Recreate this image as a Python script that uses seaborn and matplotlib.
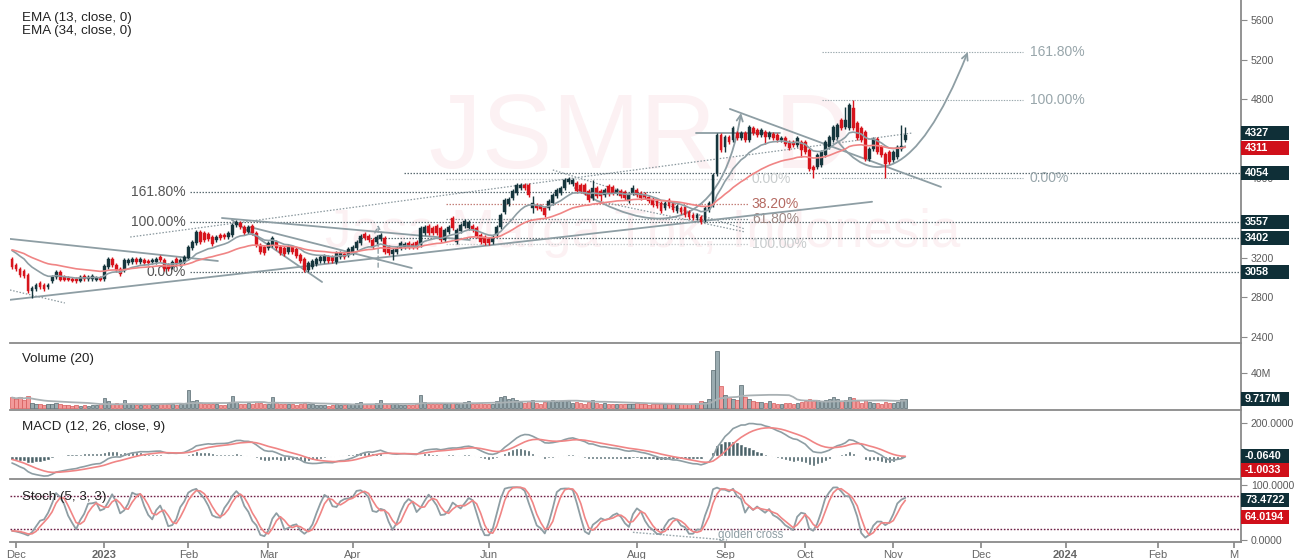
import numpy as np
import pandas as pd
import matplotlib
matplotlib.use("Agg")
import matplotlib.pyplot as plt
import seaborn as sns
from matplotlib.path import Path
from matplotlib.patches import FancyArrowPatch, Rectangle

# ---------------- data (daily bars, Dec 2022 - 3 Nov 2023) ----------------
opens = [
    3190, 3130, 3090, 3070, 3030, 2860, 2880, 2940, 2920, 2900,
    2960, 3010, 3060, 3010, 3000, 2990, 2990, 2970, 3020, 2990,
    2990, 2980, 3000, 2990, 3110, 3190, 3130, 3090, 3080, 3150,
    3160, 3190, 3160, 3180, 3170, 3160, 3160, 3210, 3180, 3130,
    3110, 3190, 3140, 3160, 3200, 3300, 3350, 3460, 3450, 3440,
    3410, 3380, 3430, 3430, 3410, 3430, 3530,
    3550, 3510, 3460, 3520, 3450, 3330, 3310, 3300, 3330, 3360,
    3310, 3300, 3260, 3310, 3290, 3230, 3190, 3080, 3110, 3140,
    3170, 3170, 3210, 3210, 3160, 3210, 3240, 3230, 3250, 3300,
    3350, 3440, 3420, 3380, 3360, 3390, 3400, 3310, 3240, 3260,
    3300, 3310, 3350, 3340, 3360, 3330, 3450, 3520, 3500, 3520,
    3500, 3380, 3460, 3600, 3360,
    3470, 3520, 3500, 3520, 3500, 3430, 3410, 3390, 3360, 3430,
    3510, 3660, 3740, 3800, 3850, 3900, 3930, 3930, 3700, 3730,
    3720, 3700, 3700, 3750, 3820, 3850, 3900, 3960, 3940, 3950,
    3930, 3930, 3870, 3800, 3900, 3870, 3830, 3920, 3910, 3850,
    3870, 3860, 3770, 3850, 3880, 3850, 3840, 3810, 3790, 3770,
    3750, 3700, 3780, 3750, 3670, 3700, 3710, 3660, 3630, 3600,
    3610, 3580, 3680, 3730, 4050, 4440, 4320, 4420, 4390, 4460,
    4410, 4460, 4390, 4510, 4490, 4440, 4470, 4420, 4450, 4440,
    4390, 4410, 4370, 4370, 4340, 4370, 4370, 4290, 4120, 4120,
    4140, 4240, 4320, 4390, 4420, 4590, 4520, 4510, 4710, 4560,
    4510, 4470, 4200, 4300, 4400, 4320, 4250, 4270, 4190, 4220,
    4300, 4390,
]
closes = [
    3110, 3090, 3030, 3020, 2860, 2890, 2920, 2900, 2880, 2920,
    3010, 3060, 2980, 2980, 2980, 2970, 2960, 3010, 2990, 3010,
    3020, 3000, 2980, 3120, 3190, 3130, 3080, 3040, 3180, 3180,
    3190, 3160, 3190, 3150, 3150, 3180, 3190, 3180, 3090, 3090,
    3160, 3140, 3180, 3210, 3310, 3360, 3460, 3360, 3380, 3390,
    3340, 3410, 3400, 3410, 3450, 3530, 3560,
    3510, 3450, 3510, 3450, 3330, 3260, 3250, 3350, 3400, 3300,
    3250, 3240, 3310, 3260, 3220, 3170, 3080, 3150, 3170, 3190,
    3210, 3220, 3170, 3170, 3250, 3250, 3210, 3290, 3310, 3360,
    3420, 3400, 3380, 3310, 3410, 3430, 3260, 3250, 3280, 3300,
    3350, 3340, 3310, 3310, 3310, 3500, 3510, 3450, 3450, 3450,
    3380, 3480, 3510, 3500, 3480,
    3530, 3570, 3560, 3480, 3420, 3360, 3350, 3350, 3410, 3510,
    3630, 3780, 3790, 3870, 3930, 3930, 3900, 3830, 3750, 3700,
    3690, 3630, 3770, 3830, 3880, 3900, 3980, 3990, 3980, 3870,
    3870, 3850, 3780, 3900, 3820, 3820, 3880, 3840, 3850, 3880,
    3820, 3800, 3830, 3900, 3830, 3800, 3810, 3770, 3730, 3720,
    3670, 3750, 3720, 3680, 3720, 3660, 3630, 3610, 3600, 3630,
    3560, 3700, 3750, 4040, 4440, 4290, 4420, 4370, 4510, 4410,
    4460, 4390, 4520, 4460, 4440, 4490, 4420, 4460, 4410, 4390,
    4410, 4350, 4310, 4340, 4410, 4290, 4270, 4100, 4090, 4240,
    4270, 4370, 4420, 4520, 4540, 4510, 4590, 4740, 4510, 4410,
    4390, 4200, 4300, 4400, 4270, 4240, 4150, 4170, 4270, 4320,
    4330, 4440,
]
volume_m = [
    12, 10, 13, 9, 14,
    6, 5, 4, 3, 4, 5, 6, 4, 3, 3, 2, 3, 2, 3, 2, 3, 3, 4,
    11, 8, 5, 6, 4, 9, 5, 4,
    3, 3, 3, 4, 3, 3, 4, 6, 5, 4, 3, 5, 6,
    21, 8, 9, 6, 5, 4, 5, 4, 3, 3, 6, 14, 7,
    5, 4, 6, 5, 7, 6, 4, 5, 12, 6, 5, 4, 4, 5,
    3, 4, 6, 5, 4, 3, 3, 3, 2, 3, 4, 3, 3, 4, 5, 6, 7, 5, 4, 5,
    6, 9, 6, 4, 5, 4, 3, 3, 3, 3, 4, 15, 7, 5, 4, 5, 5, 4, 6, 6, 5,
    6, 7, 8, 5, 5, 6, 5, 4, 5, 8, 12, 14, 10, 11, 9, 7, 6, 8, 9,
    6, 5, 7, 8, 9, 7, 8, 9, 8, 6, 7, 6, 5, 7, 9, 6, 5, 6, 5, 4,
    4, 5, 4, 4, 5, 6, 4, 4, 3, 4, 4, 5, 5, 4, 4, 5, 4, 5, 4, 5,
    6, 8, 7, 10, 44, 66, 25, 15, 12, 10, 9, 26, 12, 10, 8, 7, 7, 6, 8, 6,
    5, 5, 6, 6, 5, 6, 7, 8, 10, 8, 9, 8, 9, 10, 12, 10, 8, 9, 13, 11,
    8, 6, 9, 7, 6, 6, 5, 7, 6, 6, 7, 10, 9.717,
]
TYPICAL_WICK = 20          # usual shadow length seen on the candles
high_wicks = {130: 3820, 145: 3980, 155: 3930, 208: 4720, 210: 4790, 222: 4540, 223: 4520}
low_wicks = {5: 2790, 95: 3180, 130: 3650, 147: 3770, 172: 3540, 178: 4270,
             188: 4350, 197: 4220, 200: 4000, 218: 4000}

# indicator starting values (history before the visible window)
EMA13_START, EMA34_START = 3300, 3290
MACD_FAST_START, MACD_SLOW_START, MACD_SIGNAL_START = 3290, 3320, -15

month_ticks = [1, 23, 44, 64, 85, 119, 156, 178, 198, 220, 242, 263, 286, 305]
month_labels = ["Dec", "2023", "Feb", "Mar", "Apr", "Jun", "Aug", "Sep", "Oct",
                "Nov", "Dec", "2024", "Feb", "M"]
price_ticks = [2400, 2800, 3200, 4000, 4800, 5200, 5600]

# horizontal levels and where they start (bar index)
h_levels = [4054, 3557, 3402, 3058]
h_level_start = [97.9, 44.4, 86.4, 44.4]

# fibonacci drawings
fib_left_levels = [3058, 3557, 3865]
fib_left_labels = ["0.00%", "100.00%", "161.80%"]
fib_mid_levels = [3990, 3742, 3588, 3340]
fib_mid_labels = ["0.00%", "38.20%", "61.80%", "100.00%"]
fib_right_levels = [4005, 4792, 5278]
fib_right_labels = ["0.00%", "100.00%", "161.80%"]

# trend lines: (x0, y0, x1, y1) in bar index / price
solid_lines = [
    (-0.5, 2775, 214.7, 3765),
    (-0.5, 3390, 51.4, 3167),
    (52.4, 3601, 114.3, 3379),
    (54.9, 3581, 77.4, 2955),
    (59.4, 3510, 99.8, 3096),
    (179.2, 4702, 231.9, 3915),
    (170.7, 4459, 191.7, 4459),
]
dotted_lines = [
    (-0.5, 2874, 13.2, 2743),
    (29.5, 3409, 224.7, 4459),
    (135.0, 4086, 183.0, 3490),
    (145.0, 3783, 183.0, 3460),
]
cup_curve = [(140.5, 3904), (159.3, 3430), (176.7, 3379), (182.0, 4661)]
proj_curve = [(205.9, 4389), (214.2, 3934), (225.4, 3934), (238.6, 5277)]
measure_arrow = (91.4, 3076, 3561)

labels_main = [("4327", 4327, "dark", 13), ("4311", 4311, "red", 0), ("4054", 4054, "dark", 0),
               ("3557", 3557, "dark", 0), ("3402", 3402, "dark", 0), ("3058", 3058, "dark", 0)]
volume_label = ("9.717M", 9.717)
macd_labels = [("-0.0640", -0.0640, "dark", 0), ("-1.0033", -1.0033, "red", -14)]
stoch_labels = [("73.4722", 73.4722, "dark", 0), ("64.0194", 64.0194, "red", -12)]

# ---------------- computations ----------------
o = np.array(opens, float)
c = np.array(closes, float)
n = len(c)
idx = np.arange(n)
hi = np.maximum(o, c) + TYPICAL_WICK
lo = np.minimum(o, c) - TYPICAL_WICK
for k, v in high_wicks.items():
    hi[k] = v
for k, v in low_wicks.items():
    lo[k] = v
up = c >= o


def ema(values, span, start):
    a = 2.0 / (span + 1)
    out, prev = [], start
    for v in values:
        prev = a * v + (1 - a) * prev
        out.append(prev)
    return np.array(out)


ema13 = ema(c, 13, EMA13_START)
ema34 = ema(c, 34, EMA34_START)
macd = ema(c, 12, MACD_FAST_START) - ema(c, 26, MACD_SLOW_START)
signal = ema(macd, 9, MACD_SIGNAL_START)
hist = macd - signal
vol = np.array(volume_m, float)
vol_ma = pd.Series(vol).rolling(20, min_periods=1).mean().values
ll = pd.Series(lo).rolling(5, min_periods=1).min()
hh = pd.Series(hi).rolling(5, min_periods=1).max()
raw_k = (pd.Series(c) - ll) / (hh - ll).replace(0, np.nan) * 100
stoch_k = raw_k.fillna(50).rolling(3, min_periods=1).mean()
stoch_d = stoch_k.rolling(3, min_periods=1).mean()

df = pd.DataFrame({"i": idx, "ema13": ema13, "ema34": ema34, "macd": macd,
                   "signal": signal, "k": stoch_k.values, "d": stoch_d.values,
                   "vma": vol_ma})

# ---------------- style ----------------
sns.set_theme(style="white")
plt.rcParams["font.family"] = ["Liberation Sans", "DejaVu Sans"]

UP = "#16363d"
DN = "#d7141c"
GRAY = "#8e9ea4"
SALMON = "#f08585"
DARKBOX = "#0f2f37"
REDBOX = "#d0101a"
AXC = "#8a8a8a"
TXT = "#5a5a5a"

W, H = 1296, 559
fig = plt.figure(figsize=(W / 100, H / 100), dpi=100)
fig.patch.set_facecolor("white")


def rect(top, bottom):
    return [10 / W, 1 - bottom / H, (1241 - 10) / W, (bottom - top) / H]


ax = fig.add_axes(rect(0, 343))
axv = fig.add_axes(rect(344, 410))
axm = fig.add_axes(rect(411, 479))
axs = fig.add_axes(rect(480, 542))
XL = (-0.5, 306.8)
TX = 12 / 1231   # title inset

for a in (ax, axv, axm, axs):
    a.set_facecolor("none")
    a.set_xlim(*XL)
    for s in ("left", "top"):
        a.spines[s].set_visible(False)
    for s in ("right", "bottom"):
        a.spines[s].set_color(AXC)
        a.spines[s].set_linewidth(1.3)
    a.yaxis.tick_right()
    a.tick_params(axis="y", which="both", right=True, left=False, labelright=True,
                  labelleft=False, direction="out", length=4, width=0.8, color=AXC,
                  labelcolor=TXT, labelsize=7.6, pad=3)
    a.tick_params(axis="x", bottom=False, labelbottom=False)
    a.grid(False)

# ---------------- main price panel ----------------
ax.set_ylim(2339, 5802)
ax.set_yticks(price_ticks)
ax.set_yticklabels([str(t) for t in price_ticks])

ax.text(419 / 1231, 1 - 168 / 343, "JSMR, D", transform=ax.transAxes, ha="left",
        va="baseline", fontsize=76, color="#fcf1f3", zorder=0)
ax.text(950 / 1231, 1 - 247 / 343, "Jasa Marga Tbk, Indonesia", transform=ax.transAxes,
        ha="right", va="baseline", fontsize=38, color="#fcf1f3", zorder=0)

for lvl, x0 in zip(h_levels, h_level_start):
    ax.plot([x0, XL[1]], [lvl, lvl], color="#5d6d73", lw=0.9, ls=(0, (1.2, 1.2)), zorder=1)

ax.plot([44.4, 161.8], [fib_left_levels[2]] * 2, color="#5d6d73", lw=0.9, ls=(0, (1.2, 1.2)), zorder=1)
for lvl, lab in zip(fib_left_levels, fib_left_labels):
    ax.text(43.4, lvl, lab, ha="right", va="center", fontsize=10, color="#555555", zorder=2)

mid_cols = ["#c6cbcd", "#c4807a", "#8a9499", "#c6cbcd"]
mid_txt = ["#c8cccd", "#b56a62", "#a08a86", "#c8cccd"]
for lvl, lab, lc, tc in zip(fib_mid_levels, fib_mid_labels, mid_cols, mid_txt):
    ax.plot([108.3, 183.7], [lvl, lvl], color=lc, lw=0.9, ls=(0, (1.2, 1.2)), zorder=1)
    ax.text(184.7, lvl, lab, ha="left", va="center", fontsize=10, color=tc, zorder=2)

for lvl, lab in zip(fib_right_levels, fib_right_labels):
    ax.plot([202.2, 252.4], [lvl, lvl], color="#9aa8ad", lw=0.8, ls=(0, (1.2, 1.2)), zorder=1)
    ax.text(254.1, lvl, lab, ha="left", va="center", fontsize=10, color="#98a6ab", zorder=2)

for x0, y0, x1, y1 in solid_lines:
    ax.plot([x0, x1], [y0, y1], color=GRAY, lw=1.3, zorder=2)
for x0, y0, x1, y1 in dotted_lines:
    ax.plot([x0, x1], [y0, y1], color="#8a989e", lw=0.9, ls=(0, (1.2, 1.4)), zorder=2)

for pts in (cup_curve, proj_curve):
    path = Path(pts, [Path.MOVETO, Path.CURVE4, Path.CURVE4, Path.CURVE4])
    arr = FancyArrowPatch(path=path, arrowstyle="->", mutation_scale=11, color=GRAY,
                          lw=1.3, zorder=2)
    ax.add_patch(arr)

mx, my0, my1 = measure_arrow
ax.annotate("", xy=(mx, my1), xytext=(mx, my0),
            arrowprops=dict(arrowstyle="->", color=GRAY, lw=1.0, ls=(0, (3, 2))), zorder=2)

# candles
colors = np.where(up, UP, DN)
ax.vlines(idx, lo, hi, colors=colors, lw=1.0, zorder=3)
body = np.maximum(np.abs(c - o), 8)
ax.bar(idx, body, bottom=np.minimum(o, c), width=0.72, color=colors,
       edgecolor=colors, linewidth=0.3, zorder=3)

sns.lineplot(data=df, x="i", y="ema13", ax=ax, color=GRAY, lw=1.2, zorder=4, legend=False)
sns.lineplot(data=df, x="i", y="ema34", ax=ax, color=SALMON, lw=1.2, zorder=4, legend=False)
ax.set_xlabel("")
ax.set_ylabel("")
ax.set_xlim(*XL)

ax.text(TX, 1 - 18 / 343, "EMA (13, close, 0)", transform=ax.transAxes, fontsize=9.6,
        color="#222222", va="center", ha="left")
ax.text(TX, 1 - 31 / 343, "EMA (34, close, 0)", transform=ax.transAxes, fontsize=9.6,
        color="#222222", va="center", ha="left")

# ---------------- volume panel ----------------
axv.set_ylim(-2.5, 74)
vcol = np.where(up, "#9aabb0", "#f29a9a")
vedge = np.where(up, "#55686e", "#d65a5a")
axv.bar(idx, vol, width=0.8, color=vcol, edgecolor=vedge, linewidth=0.5, zorder=2)
sns.lineplot(data=df, x="i", y="vma", ax=axv, color="#a9b1b4", lw=1.3, zorder=3, legend=False)
axv.set_xlabel("")
axv.set_ylabel("")
axv.set_xlim(*XL)
axv.set_yticks([40])
axv.set_yticklabels(["40M"])
axv.text(TX, 1 - 15 / 66, "Volume (20)", transform=axv.transAxes, fontsize=9.6,
         color="#222222", va="center", ha="left")

# ---------------- MACD panel ----------------
axm.set_ylim(-139, 273)
axm.bar(idx, hist, width=0.8, color="#4a6268", zorder=2)
sns.lineplot(data=df, x="i", y="macd", ax=axm, color=GRAY, lw=1.2, zorder=3, legend=False)
sns.lineplot(data=df, x="i", y="signal", ax=axm, color=SALMON, lw=1.2, zorder=3, legend=False)
axm.set_xlabel("")
axm.set_ylabel("")
axm.set_xlim(*XL)
axm.set_yticks([200])
axm.set_yticklabels(["200.0000"])
axm.text(TX, 1 - 16 / 68, "MACD (12, 26, close, 9)", transform=axm.transAxes,
         fontsize=9.6, color="#222222", va="center", ha="left")

# ---------------- Stoch panel ----------------
axs.set_ylim(-3.6, 108.9)
for lvl in (80, 20):
    axs.axhline(lvl, color="#6e1e44", lw=1.0, ls=(0, (1.2, 1.2)), zorder=1)
sns.lineplot(data=df, x="i", y="k", ax=axs, color=GRAY, lw=1.3, zorder=3, legend=False)
sns.lineplot(data=df, x="i", y="d", ax=axs, color=SALMON, lw=1.2, zorder=3, legend=False)
axs.plot([155.0, 178.5], [14, 0], color="#9aa8ad", lw=1.0, ls=(0, (1.2, 1.2)), zorder=2)
axs.text(176.2, 9, "golden cross", fontsize=8.3, color="#8e9ea4", va="center", ha="left", zorder=4)
axs.set_xlabel("")
axs.set_ylabel("")
axs.set_xlim(*XL)
axs.set_yticks([0, 100])
axs.set_yticklabels(["0.0000", "100.0000"])
axs.text(TX, 1 - 17 / 62, "Stoch (5, 3, 3)", transform=axs.transAxes, fontsize=9.6,
         color="#222222", va="center", ha="left", zorder=5)
axs.set_xticks(month_ticks)
axs.set_xticklabels(month_labels)
axs.tick_params(axis="x", bottom=True, labelbottom=True, direction="out", length=4,
                color=AXC, labelcolor="#666666", labelsize=8, pad=2)
for lab in axs.get_xticklabels():
    if lab.get_text() in ("2023", "2024"):
        lab.set_fontweight("bold")

# ---------------- right-axis value boxes ----------------
def value_box(a, value, text, kind, dy=0):
    y = a.transData.transform((0, value))[1] + dy
    x = a.transAxes.transform((1, 0))[0]
    fc = DARKBOX if kind == "dark" else REDBOX
    fig.add_artist(Rectangle((x / W, (y - 7) / H), 48 / W, 14 / H, transform=fig.transFigure,
                             facecolor=fc, edgecolor="none", zorder=10))
    fig.text((x + 4) / W, y / H, text, color="white", fontsize=7.8, fontweight="bold",
             va="center", ha="left", zorder=11)


for t, v, k, dy in labels_main:
    value_box(ax, v, t, k, dy)
value_box(axv, volume_label[1], volume_label[0], "dark")
for t, v, k, dy in macd_labels:
    value_box(axm, v, t, k, dy)
for t, v, k, dy in stoch_labels:
    value_box(axs, v, t, k, dy)

fig.savefig("out.png", dpi=100)
